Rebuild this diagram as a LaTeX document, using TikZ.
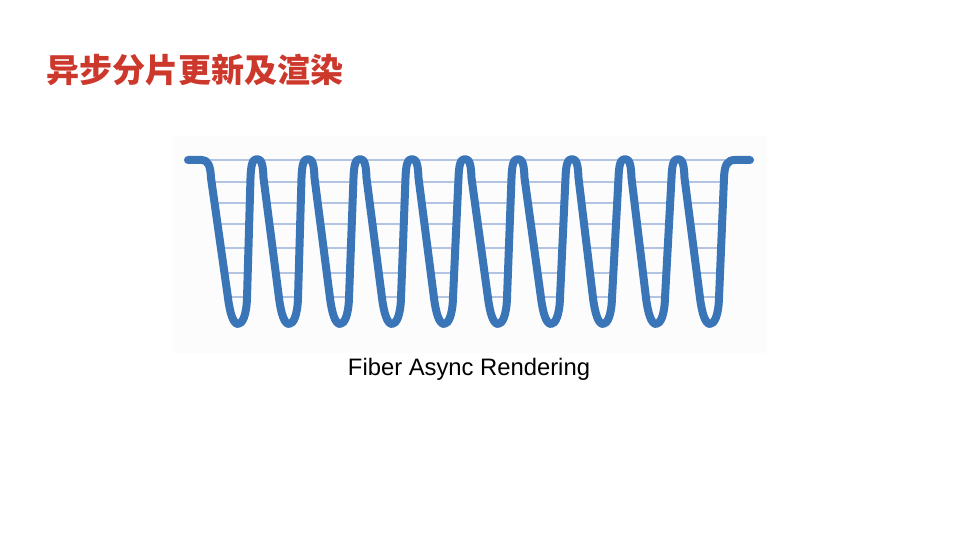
\documentclass[tikz,border=0pt]{standalone}
\usepackage{fontspec}
\setmainfont{Liberation Sans}
\newfontfamily\cjkfont{Noto Sans CJK SC}
\definecolor{titlered}{RGB}{205,56,44}
\definecolor{wave}{RGB}{58,117,184}
\definecolor{rung}{RGB}{178,196,225}
\definecolor{panel}{RGB}{252,252,252}
\begin{document}
\begin{tikzpicture}[x=1pt,y=-1pt,
  wavestroke/.style={draw=wave,line width=8pt,line cap=round,line join=round},
  rungline/.style={draw=rung,line width=1.3pt},
  titletext/.style={font=\cjkfont\bfseries\fontsize{33}{39}\selectfont,text=titlered,inner sep=0pt,anchor=west},
  captext/.style={font=\fontsize{23.8}{28}\selectfont,text=black,inner sep=0pt,anchor=base}]
\useasboundingbox (0,0) rectangle (960,540);
\fill[white] (0,0) rectangle (960,540);
\fill[panel] (172,136) rectangle (767,353);
\node[titletext] (title) at (46,70) {异步分片更新及渲染};
% top rung line
\draw[rungline] (203,160) -- (740,160);
% rungs inside each dip: lefttop/leftbot/rightbot/righttop (x at y=178 and y=298)
\foreach \a/\b/\c/\d in {211/228/247/250.5, 263.5/279/298/301.5, 314.5/330/349/353.5,
  366.5/382/401/405.5, 418.5/434/453/458.5, 471.5/488/507/511.5, 524.5/541/560/565.5,
  578.5/593/612/618.5, 631.5/646/665/671.5, 684.5/700/719/724}{
  \foreach \yy in {182,203,224,248,273,297}{
    \draw[rungline] ({\a+(\yy-178)/120*(\b-\a)},\yy) -- ({\d+(\yy-178)/120*(\c-\d)},\yy);
  }
}
\draw[wavestroke] (188,160) -- (202,160) .. controls (208,160) and (210.5,166) .. (211,178)
  \foreach \bb/\pp in {238/257, 289/308, 340/360, 392/412, 444/465, 498/518, 551/572, 603/625, 656/678}{
    -- (\bb-10,298) .. controls (\bb-8,314) and (\bb-4.5,324) .. (\bb,324)
    .. controls (\bb+4.5,324) and (\bb+8.5,315) .. (\bb+9,298)
    -- (\pp-6.5,178) .. controls (\pp-6,166) and (\pp-5,159) .. (\pp,159)
    .. controls (\pp+5,159) and (\pp+6,166) .. (\pp+6.5,178)
  }
  -- (700,298) .. controls (702,314) and (705.5,324) .. (710,324)
  .. controls (714.5,324) and (718.5,315) .. (719,298)
  -- (724,178) .. controls (724.5,165) and (727,160) .. (735,160) -- (750,160);
\node[captext] (caption) at (469,375) {Fiber Async Rendering};
\end{tikzpicture}
\end{document}
